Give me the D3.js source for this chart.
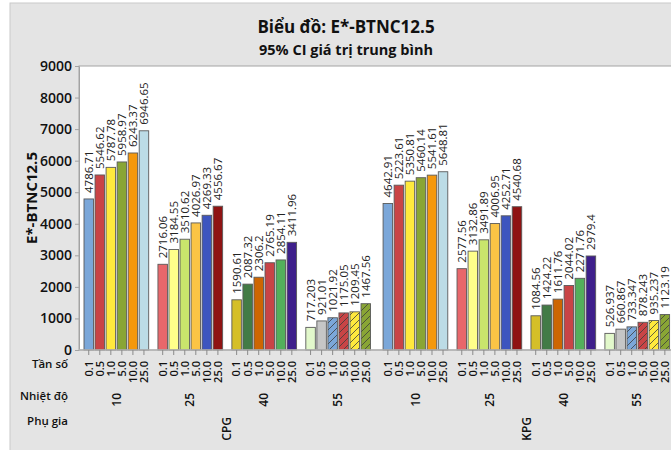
<!DOCTYPE html>
<html>
<head>
<meta charset="utf-8">
<script src="https://cdn.jsdelivr.net/npm/d3@7"></script>
<style>
  body { margin: 0; background: #fff; }
  svg { display: block; font-family: "Open Sans", "Noto Sans", sans-serif; }
</style>
</head>
<body>
<svg id="chart" width="671" height="450"></svg>
<script>
"use strict";

// Data.
const phuGia = ["CPG", "KPG"];
const nhietDo = ["10", "25", "40", "55"];
const tanSo = ["0.1", "0.5", "1.0", "5.0", "10.0", "25.0"];

const valuesCPG = [
  [4786.71, 5546.62, 5787.78, 5958.97, 6243.37, 6946.65],
  [2716.06, 3184.55, 3510.62, 4026.97, 4269.33, 4556.67],
  [1590.61, 2087.32, 2306.2, 2765.19, 2854.11, 3411.96],
  [717.203, 921.01, 1021.92, 1175.05, 1209.45, 1467.56]
];
const valuesKPG = [
  [4642.91, 5223.61, 5350.81, 5460.14, 5541.61, 5648.81],
  [2577.56, 3132.86, 3491.89, 4006.95, 4252.71, 4540.68],
  [1084.56, 1424.22, 1611.76, 2044.02, 2271.76, 2979.4],
  [526.937, 660.867, 733.347, 878.243, 935.237, 1123.19]
];
const yTicks = [0, 1000, 2000, 3000, 4000, 5000, 6000, 7000, 8000, 9000];

// Colours per temperature group (same for both additives).
const barColors = {
  "10": ["#7ba7d9", "#c94446", "#ffe93d", "#89a535", "#f5980c", "#bcdce6"],
  "25": ["#e8676b", "#ffff8a", "#c9e56c", "#fbc445", "#3d55bf", "#8f1313"],
  "40": ["#d5bf28", "#427b46", "#cd6602", "#c94446", "#53b05b", "#3e1f8b"],
  "55": ["#e2f8cb", "#c6c6c6", "#7ba7d9", "#c94446", "#ffe93d", "#89a535"]
};
const hatched = { "55": [false, false, true, true, true, true] };

const rows = [];
phuGia.forEach((pg, pi) => {
  const vals = pi === 0 ? valuesCPG : valuesKPG;
  nhietDo.forEach((nd, ni) => {
    tanSo.forEach((ts, ti) => {
      rows.push({ pg, nd, ts, ti, value: vals[ni][ti] });
    });
  });
});

const svg = d3.select("#chart");
const plot = { left: 79, top: 66, bottom: 350, right: 720 };

// Pattern for hatched bars.
const defs = svg.append("defs");
Object.entries(barColors).forEach(([nd, cols]) => {
  cols.forEach((c, i) => {
    const p = defs.append("pattern")
        .attr("id", "hatch-" + nd + "-" + i)
        .attr("patternUnits", "userSpaceOnUse")
        .attr("width", 7).attr("height", 7);
    p.append("rect").attr("width", 7).attr("height", 7).attr("fill", c);
    p.append("path")
        .attr("d", "M-1,8 L8,-1 M-2,2 L2,-2 M5,9 L9,5")
        .attr("stroke", "#3c3c3c")
        .attr("stroke-width", 0.8);
  });
});

// Figure background.
svg.append("rect")
    .attr("x", 10).attr("y", 3)
    .attr("width", 720).attr("height", 470)
    .attr("fill", "#e4e4e4")
    .attr("stroke", "#c9c9c9");

// Plot area.
svg.append("rect")
    .attr("x", plot.left).attr("y", plot.top)
    .attr("width", plot.right - plot.left).attr("height", plot.bottom - plot.top)
    .attr("fill", "#fff")
    .attr("stroke", "#a3a3a3");

// Titles.
svg.append("text")
    .attr("x", 346).attr("y", 33)
    .attr("text-anchor", "middle")
    .attr("font-size", 17).attr("font-weight", 700)
    .attr("fill", "#111")
    .text("Biểu đồ: E*-BTNC12.5");
svg.append("text")
    .attr("x", 346).attr("y", 55)
    .attr("text-anchor", "middle")
    .attr("font-size", 14.5).attr("font-weight", 700)
    .attr("fill", "#111")
    .text("95% CI giá trị trung bình");

// Scales.
const y = d3.scaleLinear().domain([0, 9000]).range([plot.bottom, plot.top]);
const xPg = d3.scaleBand().domain(phuGia).range([84, 669.6]).paddingInner(0.042);
const xNd = d3.scaleBand().domain(nhietDo).range([0, xPg.bandwidth()]).paddingInner(0.125);
const xTs = d3.scaleBand().domain(tanSo).range([0, xNd.bandwidth()]).paddingInner(0.14);
const barX = (d) => xPg(d.pg) + xNd(d.nd) + xTs(d.ts);
const barCx = (d) => barX(d) + xTs.bandwidth() / 2;

// Y axis.
const yAxis = svg.append("g")
    .attr("transform", "translate(" + plot.left + ",0)")
    .call(d3.axisLeft(y).tickValues(yTicks).tickFormat(d3.format("d"))
        .tickSize(4).tickPadding(3).tickSizeOuter(0));
yAxis.select(".domain").attr("stroke", "#a3a3a3");
yAxis.selectAll(".tick line").attr("stroke", "#a3a3a3");
yAxis.selectAll(".tick text")
    .attr("font-family", "\"Open Sans\", sans-serif")
    .attr("font-size", 14).attr("font-weight", 600)
    .attr("fill", "#111");

svg.append("text")
    .attr("transform", "translate(37,198) rotate(-90)")
    .attr("text-anchor", "middle")
    .attr("font-size", 15).attr("font-weight", 700)
    .attr("fill", "#111")
    .text("E*-BTNC12.5");

// Bars.
svg.append("g").selectAll("rect")
    .data(rows)
    .enter().append("rect")
    .attr("x", barX)
    .attr("y", (d) => y(d.value))
    .attr("width", xTs.bandwidth())
    .attr("height", (d) => y(0) - y(d.value))
    .attr("fill", (d) => (hatched[d.nd] && hatched[d.nd][d.ti])
        ? "url(#hatch-" + d.nd + "-" + d.ti + ")"
        : barColors[d.nd][d.ti])
    .attr("stroke", "#5a5a5a")
    .attr("stroke-width", 0.9);

// Bar value labels.
svg.append("g").selectAll("text")
    .data(rows)
    .enter().append("text")
    .attr("transform", (d) => "translate(" + barCx(d) + "," + (y(d.value) - 6) + ") rotate(-90)")
    .attr("dy", "0.35em")
    .attr("font-size", 11.5)
    .attr("fill", "#222")
    .text((d) => d.value);

// X axis line and ticks.
svg.append("line")
    .attr("x1", plot.left).attr("x2", plot.right)
    .attr("y1", plot.bottom).attr("y2", plot.bottom)
    .attr("stroke", "#b5b5b5").attr("stroke-width", 1.5);
svg.append("g").selectAll("line")
    .data(rows)
    .enter().append("line")
    .attr("x1", barCx).attr("x2", barCx)
    .attr("y1", plot.bottom).attr("y2", plot.bottom + 5)
    .attr("stroke", "#8a8a8a");

// Tần số labels.
svg.append("g").selectAll("text")
    .data(rows)
    .enter().append("text")
    .attr("transform", (d) => "translate(" + barCx(d) + "," + (plot.bottom + 11) + ") rotate(-90)")
    .attr("dy", "0.35em")
    .attr("text-anchor", "end")
    .attr("font-size", 11).attr("font-weight", 600)
    .attr("fill", "#111")
    .text((d) => d.ts);

// Nhiệt độ labels.
const ndRows = [];
phuGia.forEach((pg) => nhietDo.forEach((nd) => ndRows.push({ pg, nd })));
svg.append("g").selectAll("text")
    .data(ndRows)
    .enter().append("text")
    .attr("transform", (d) => "translate(" + (xPg(d.pg) + xNd(d.nd) + xNd.bandwidth() / 2) + "," + 393 + ") rotate(-90)")
    .attr("dy", "0.35em")
    .attr("text-anchor", "end")
    .attr("font-size", 12).attr("font-weight", 600)
    .attr("fill", "#111")
    .text((d) => d.nd);

// Phụ gia labels.
svg.append("g").selectAll("text")
    .data(phuGia)
    .enter().append("text")
    .attr("transform", (d) => "translate(" + (xPg(d) + xPg.bandwidth() / 2) + "," + 417 + ") rotate(-90)")
    .attr("dy", "0.35em")
    .attr("text-anchor", "end")
    .attr("font-size", 12).attr("font-weight", 600)
    .attr("fill", "#111")
    .text((d) => d);

// Row titles.
const rowTitles = [["Tần số", 368], ["Nhiệt độ", 400], ["Phụ gia", 425]];
svg.append("g").selectAll("text")
    .data(rowTitles)
    .enter().append("text")
    .attr("x", 68).attr("y", (d) => d[1])
    .attr("text-anchor", "end")
    .attr("font-size", 11.5).attr("font-weight", 600)
    .attr("fill", "#111")
    .text((d) => d[0]);
</script>
</body>
</html>
